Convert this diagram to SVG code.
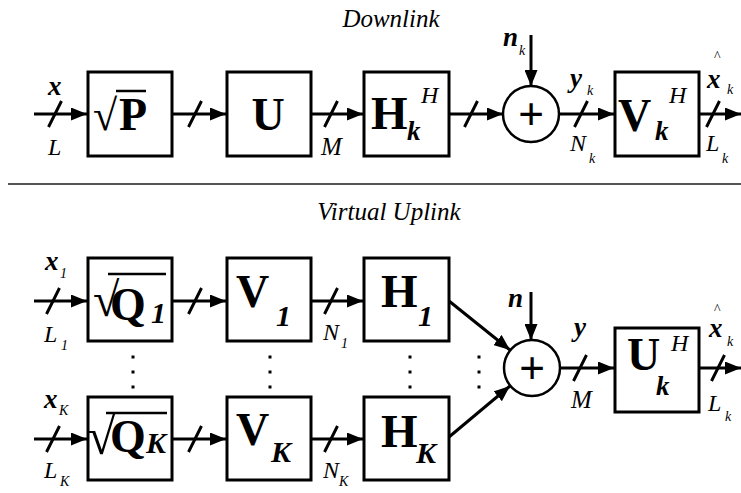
<svg xmlns="http://www.w3.org/2000/svg" width="741" height="493" viewBox="0 0 741 493">
<defs>
<marker id="ah" markerWidth="16" markerHeight="13" refX="16" refY="6.5" orient="auto" markerUnits="userSpaceOnUse"><path d="M0,0 L16,6.5 L0,13 z" fill="#000"/></marker>
</defs>
<rect width="741" height="493" fill="#fff"/>
<text font-family="Liberation Serif, serif" font-style="italic" font-size="25" x="391" y="27" text-anchor="middle">Downlink</text>
<line x1="8" y1="184" x2="741" y2="184" stroke="#555" stroke-width="2"/>
<text font-family="Liberation Serif, serif" font-style="italic" font-size="25" x="389" y="220" text-anchor="middle">Virtual Uplink</text>

<g id="connectors" fill="none" stroke="#000" stroke-width="3">
<g marker-end="url(#ah)">
<line x1="34" y1="114" x2="87" y2="114"/>
<line x1="172" y1="114" x2="226" y2="114"/>
<line x1="311" y1="114" x2="363" y2="114"/>
<line x1="449" y1="114" x2="503" y2="114"/>
<line x1="531" y1="35" x2="531" y2="86"/>
<line x1="559" y1="114" x2="614" y2="114"/>
<line x1="699" y1="114" x2="741" y2="114"/>
<line x1="34" y1="301" x2="87" y2="301"/>
<line x1="172" y1="301" x2="226" y2="301"/>
<line x1="311" y1="301" x2="363" y2="301"/>
<line x1="34" y1="439" x2="87" y2="439"/>
<line x1="172" y1="439" x2="226" y2="439"/>
<line x1="311" y1="439" x2="363" y2="439"/>
<line x1="449" y1="301" x2="510" y2="350"/>
<line x1="449" y1="437" x2="510" y2="386"/>
<line x1="531" y1="292" x2="531" y2="340"/>
<line x1="560" y1="368" x2="614" y2="368"/>
<line x1="699" y1="368" x2="741" y2="368"/>
</g>
<line x1="48.5" y1="127" x2="61.5" y2="101"/>
<line x1="188.5" y1="127" x2="201.5" y2="101"/>
<line x1="324.5" y1="127" x2="337.5" y2="101"/>
<line x1="464.5" y1="127" x2="477.5" y2="101"/>
<line x1="574.5" y1="127" x2="587.5" y2="101"/>
<line x1="706.5" y1="127" x2="719.5" y2="101"/>
<line x1="46.5" y1="314" x2="59.5" y2="288"/>
<line x1="188.5" y1="314" x2="201.5" y2="288"/>
<line x1="324.5" y1="314" x2="337.5" y2="288"/>
<line x1="46.5" y1="452" x2="59.5" y2="426"/>
<line x1="188.5" y1="452" x2="201.5" y2="426"/>
<line x1="324.5" y1="452" x2="337.5" y2="426"/>
<line x1="573.5" y1="381" x2="586.5" y2="355"/>
<line x1="711.5" y1="381" x2="724.5" y2="355"/>
</g>

<g id="labels-top">
<text font-family="Liberation Serif, serif" font-size="27" font-weight="bold" font-style="italic" x="48" y="95">x</text>
<text font-family="Liberation Serif, serif" font-size="24" font-style="italic" x="48" y="155">L</text>
<text font-family="Liberation Serif, serif" font-size="25" font-style="italic" x="321" y="155">M</text>
<text font-family="Liberation Serif, serif" font-size="27" font-weight="bold" font-style="italic" x="503" y="46">n</text>
<text font-family="Liberation Serif, serif" font-size="14" font-style="italic" x="519" y="55">k</text>
<text font-family="Liberation Serif, serif" font-size="27" font-weight="bold" font-style="italic" x="570" y="87">y</text>
<text font-family="Liberation Serif, serif" font-size="14" font-style="italic" x="587" y="95">k</text>
<text font-family="Liberation Serif, serif" font-size="24" font-style="italic" x="570" y="151">N</text>
<text font-family="Liberation Serif, serif" font-size="14" font-style="italic" x="589" y="163">k</text>
<text font-family="Liberation Serif, serif" font-size="14" x="714" y="61">^</text>
<text font-family="Liberation Serif, serif" font-size="27" font-weight="bold" font-style="italic" x="707" y="88">x</text>
<text font-family="Liberation Serif, serif" font-size="14" font-style="italic" x="727" y="94">k</text>
<text font-family="Liberation Serif, serif" font-size="24" font-style="italic" x="706" y="151">L</text>
<text font-family="Liberation Serif, serif" font-size="14" font-style="italic" x="722" y="163">k</text>
</g>

<g id="node-sqrtP">
<rect x="88" y="72" width="84" height="84" fill="#fff" stroke="#000" stroke-width="3"/>
<text font-family="Liberation Serif, serif" x="93" y="130" font-size="44">√</text>
<line x1="116" y1="91" x2="146" y2="91" stroke="#000" stroke-width="2.5"/>
<text font-family="Liberation Serif, serif" font-size="46" font-weight="bold" x="119" y="130">P</text>
</g>
<g id="node-U">
<rect x="227" y="72" width="84" height="84" fill="#fff" stroke="#000" stroke-width="3"/>
<text font-family="Liberation Serif, serif" font-size="46" font-weight="bold" x="268" y="130" text-anchor="middle">U</text>
</g>
<g id="node-HkH">
<rect x="364" y="72" width="85" height="84" fill="#fff" stroke="#000" stroke-width="3"/>
<text font-family="Liberation Serif, serif" font-size="47" font-weight="bold" x="371" y="129">H</text>
<text font-family="Liberation Serif, serif" font-size="27" font-weight="bold" font-style="italic" x="407" y="140">k</text>
<text font-family="Liberation Serif, serif" font-size="24" font-style="italic" x="421" y="103">H</text>
</g>
<g id="node-sum-top">
<circle cx="531" cy="114" r="28" fill="#fff" stroke="#000" stroke-width="2.5"/>
<text font-family="Liberation Sans, sans-serif" font-size="44" x="531" y="129" text-anchor="middle">+</text>
</g>
<g id="node-VkH">
<rect x="615" y="72" width="84" height="84" fill="#fff" stroke="#000" stroke-width="3"/>
<text font-family="Liberation Serif, serif" font-size="46" font-weight="bold" x="618" y="131">V</text>
<text font-family="Liberation Serif, serif" font-size="27" font-weight="bold" font-style="italic" x="655" y="140">k</text>
<text font-family="Liberation Serif, serif" font-size="24" font-style="italic" x="669" y="103">H</text>
</g>

<g id="labels-bottom">
<text font-family="Liberation Serif, serif" font-size="27" font-weight="bold" font-style="italic" x="45" y="270">x</text>
<text font-family="Liberation Serif, serif" font-size="14" font-style="italic" x="60" y="278">1</text>
<text font-family="Liberation Serif, serif" font-size="24" font-style="italic" x="44" y="342">L</text>
<text font-family="Liberation Serif, serif" font-size="14" font-style="italic" x="61" y="350">1</text>
<text font-family="Liberation Serif, serif" font-size="24" font-style="italic" x="323" y="340">N</text>
<text font-family="Liberation Serif, serif" font-size="14" font-style="italic" x="341" y="348">1</text>
<text font-family="Liberation Serif, serif" font-size="27" font-weight="bold" font-style="italic" x="44" y="408">x</text>
<text font-family="Liberation Serif, serif" font-size="14" font-style="italic" x="59" y="415">K</text>
<text font-family="Liberation Serif, serif" font-size="24" font-style="italic" x="44" y="478">L</text>
<text font-family="Liberation Serif, serif" font-size="14" font-style="italic" x="60" y="486">K</text>
<text font-family="Liberation Serif, serif" font-size="24" font-style="italic" x="323" y="478">N</text>
<text font-family="Liberation Serif, serif" font-size="14" font-style="italic" x="339" y="486">K</text>
<text font-family="Liberation Serif, serif" font-size="27" font-weight="bold" font-style="italic" x="508" y="307">n</text>
<text font-family="Liberation Serif, serif" font-size="27" font-weight="bold" font-style="italic" x="574" y="336">y</text>
<text font-family="Liberation Serif, serif" font-size="25" font-style="italic" x="571" y="408">M</text>
<text font-family="Liberation Serif, serif" font-size="14" x="714" y="314">^</text>
<text font-family="Liberation Serif, serif" font-size="27" font-weight="bold" font-style="italic" x="709" y="337">x</text>
<text font-family="Liberation Serif, serif" font-size="14" font-style="italic" x="727" y="346">k</text>
<text font-family="Liberation Serif, serif" font-size="24" font-style="italic" x="708" y="411">L</text>
<text font-family="Liberation Serif, serif" font-size="14" font-style="italic" x="725" y="421">k</text>
</g>

<g id="node-sqrtQ1">
<rect x="88" y="258" width="84" height="83" fill="#fff" stroke="#000" stroke-width="3"/>
<text font-family="Liberation Serif, serif" x="93" y="316" font-size="48">√</text>
<line x1="108" y1="274" x2="166" y2="274" stroke="#000" stroke-width="2.5"/>
<text font-family="Liberation Serif, serif" font-size="46" font-weight="bold" x="110" y="320">Q</text>
<text font-family="Liberation Serif, serif" font-size="30" font-weight="bold" font-style="italic" x="151" y="323">1</text>
</g>
<g id="node-V1">
<rect x="227" y="258" width="84" height="83" fill="#fff" stroke="#000" stroke-width="3"/>
<text font-family="Liberation Serif, serif" font-size="46" font-weight="bold" x="236" y="307">V</text>
<text font-family="Liberation Serif, serif" font-size="30" font-weight="bold" font-style="italic" x="276" y="326">1</text>
</g>
<g id="node-H1">
<rect x="364" y="258" width="85" height="83" fill="#fff" stroke="#000" stroke-width="3"/>
<text font-family="Liberation Serif, serif" font-size="47" font-weight="bold" x="381" y="307">H</text>
<text font-family="Liberation Serif, serif" font-size="30" font-weight="bold" font-style="italic" x="418" y="326">1</text>
</g>
<g id="node-sqrtQK">
<rect x="88" y="397" width="84" height="83" fill="#fff" stroke="#000" stroke-width="3"/>
<text font-family="Liberation Serif, serif" x="87" y="454" font-size="52">√</text>
<line x1="106" y1="413" x2="167" y2="413" stroke="#000" stroke-width="2.5"/>
<text font-family="Liberation Serif, serif" font-size="46" font-weight="bold" x="110" y="452">Q</text>
<text font-family="Liberation Serif, serif" font-size="30" font-weight="bold" font-style="italic" x="146" y="453">K</text>
</g>
<g id="node-VK">
<rect x="227" y="397" width="84" height="83" fill="#fff" stroke="#000" stroke-width="3"/>
<text font-family="Liberation Serif, serif" font-size="46" font-weight="bold" x="236" y="445">V</text>
<text font-family="Liberation Serif, serif" font-size="30" font-weight="bold" font-style="italic" x="271" y="462">K</text>
</g>
<g id="node-HK">
<rect x="364" y="397" width="85" height="83" fill="#fff" stroke="#000" stroke-width="3"/>
<text font-family="Liberation Serif, serif" font-size="47" font-weight="bold" x="381" y="447">H</text>
<text font-family="Liberation Serif, serif" font-size="30" font-weight="bold" font-style="italic" x="416" y="463">K</text>
</g>
<g id="node-sum-bottom">
<circle cx="532" cy="368" r="28" fill="#fff" stroke="#000" stroke-width="2.5"/>
<text font-family="Liberation Sans, sans-serif" font-size="44" x="532" y="383" text-anchor="middle">+</text>
</g>
<g id="node-UkH">
<rect x="615" y="328" width="84" height="84" fill="#fff" stroke="#000" stroke-width="3"/>
<text font-family="Liberation Serif, serif" font-size="46" font-weight="bold" x="627" y="370">U</text>
<text font-family="Liberation Serif, serif" font-size="27" font-weight="bold" font-style="italic" x="656" y="395">k</text>
<text font-family="Liberation Serif, serif" font-size="24" font-style="italic" x="671" y="351">H</text>
</g>

<g id="dots" fill="#000">
<rect x="131.5" y="355.5" width="3" height="3"/>
<rect x="131.5" y="370.5" width="3" height="3"/>
<rect x="131.5" y="385.5" width="3" height="3"/>
<rect x="268.5" y="355.5" width="3" height="3"/>
<rect x="268.5" y="370.5" width="3" height="3"/>
<rect x="268.5" y="385.5" width="3" height="3"/>
<rect x="408.5" y="355.5" width="3" height="3"/>
<rect x="408.5" y="370.5" width="3" height="3"/>
<rect x="408.5" y="385.5" width="3" height="3"/>
<rect x="477.5" y="355.5" width="3" height="3"/>
<rect x="477.5" y="370.5" width="3" height="3"/>
<rect x="477.5" y="385.5" width="3" height="3"/>
</g>
</svg>
